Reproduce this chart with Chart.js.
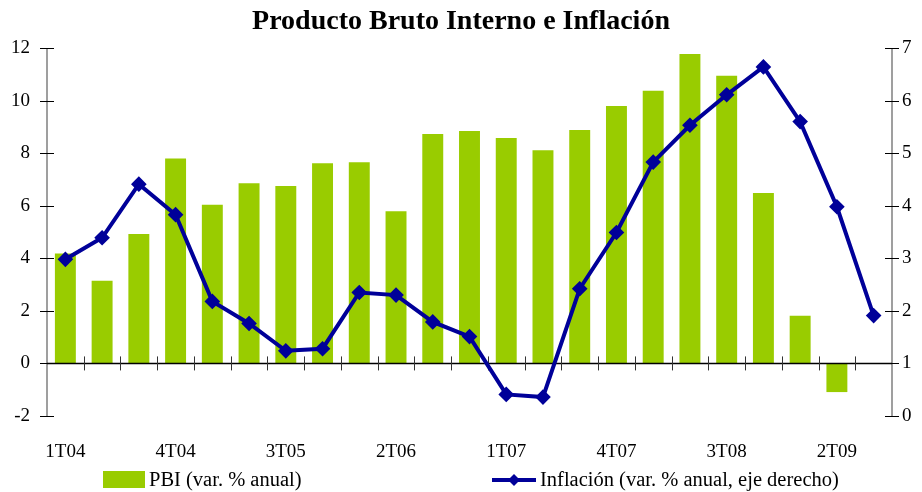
<!DOCTYPE html>
<html>
<head>
<meta charset="utf-8">
<script src="https://cdn.jsdelivr.net/npm/chart.js@4"></script>
<style>
  html, body { margin:0; padding:0; background:#fff; }
  #wrap { position:relative; width:922px; height:492px; font-family:"Liberation Serif","DejaVu Serif",serif; color:#000; }
  #c { position:absolute; left:0; top:0; }
  #title { position:absolute; left:0; width:922px; top:4px; text-align:center; font-weight:bold; font-size:28px; line-height:32px; }
  .lg { position:absolute; top:467px; height:24px; font-size:20.5px; line-height:24px; white-space:nowrap; }
  .box { position:absolute; left:103px; top:471px; width:42px; height:17px; background:#99CC00; }
</style>
</head>
<body>
<div id="wrap">
  <canvas id="c" width="922" height="492"></canvas>
  <div id="title">Producto Bruto Interno e Inflación</div>
  <div class="box"></div>
  <div class="lg" style="left:149px">PBI (var. % anual)</div>
  <svg style="position:absolute;left:490px;top:471px" width="48" height="18">
    <line x1="2" y1="9" x2="46" y2="9" stroke="#000099" stroke-width="4"/>
    <polygon points="24,3 30,9 24,15 18,9" fill="#000099"/>
  </svg>
  <div class="lg" style="left:540px">Inflación (var. % anual, eje derecho)</div>
</div>
<script>
const categories = ['1T04','2T04','3T04','4T04','1T05','2T05','3T05','4T05','1T06','2T06','3T06','4T06',
                    '1T07','2T07','3T07','4T07','1T08','2T08','3T08','4T08','1T09','2T09','3T09'];
const pbi = [4.18,3.15,4.92,7.80,6.04,6.85,6.75,7.62,7.65,5.79,8.73,8.84,
             8.58,8.11,8.88,9.79,10.37,11.77,10.94,6.48,1.81,-1.09,null];
const inflacion = [2.98,3.39,4.41,3.83,2.18,1.76,1.24,1.28,2.35,2.30,1.79,1.51,
                   0.41,0.36,2.42,3.49,4.83,5.53,6.11,6.64,5.60,3.98,1.91];
const leftTicks = [-2,0,2,4,6,8,10,12];
const rightTicks = [0,1,2,3,4,5,6,7];
const labelEvery = 3;

const FONT = '"Liberation Serif","DejaVu Serif",serif';

const axesPlugin = {
  id: 'axesDeco',
  afterDatasetDraw(chart, args) {
    if (args.index !== 0) return;
    const ctx = chart.ctx, a = chart.chartArea;
    const xs = chart.scales.x, y = chart.scales.y, y1 = chart.scales.y1;
    ctx.save();
    ctx.strokeStyle = '#808080'; ctx.lineWidth = 1.5;
    ctx.beginPath();
    ctx.moveTo(a.left, a.top); ctx.lineTo(a.left, a.bottom);
    ctx.moveTo(a.right, a.top); ctx.lineTo(a.right, a.bottom);
    ctx.stroke();
    ctx.strokeStyle = '#000'; ctx.lineWidth = 1;
    ctx.beginPath();
    leftTicks.forEach(v => { const p = Math.round(y.getPixelForValue(v)) + 0.5; ctx.moveTo(a.left - 7, p); ctx.lineTo(a.left + 7, p); });
    rightTicks.forEach(v => { const p = Math.round(y1.getPixelForValue(v)) + 0.5; ctx.moveTo(a.right - 7, p); ctx.lineTo(a.right + 7, p); });
    ctx.stroke();
    const y0 = y.getPixelForValue(0);
    ctx.lineWidth = 1.5; ctx.strokeStyle = '#000';
    ctx.beginPath(); ctx.moveTo(a.left, y0); ctx.lineTo(a.right, y0); ctx.stroke();
    ctx.lineWidth = 1; ctx.strokeStyle = '#333';
    ctx.beginPath();
    const n = categories.length;
    for (let i = 1; i < n; i++) {
      const xb = Math.round((xs.getPixelForValue(i - 1) + xs.getPixelForValue(i)) / 2) + 0.5;
      ctx.moveTo(xb, y0 - 7); ctx.lineTo(xb, y0 + 7);
    }
    ctx.stroke();
    ctx.restore();
  }
};

new Chart(document.getElementById('c'), {
  data: {
    labels: categories,
    datasets: [
      { type: 'bar', label: 'PBI (var. % anual)', data: pbi, backgroundColor: '#99CC00',
        yAxisID: 'y', barPercentage: 0.57, categoryPercentage: 1.0, order: 1 },
      { type: 'line', label: 'Inflación (var. % anual, eje derecho)', data: inflacion, yAxisID: 'y1',
        borderColor: '#000099', backgroundColor: '#000099', borderWidth: 4,
        pointStyle: 'rectRot', pointRadius: 5, pointHoverRadius: 5, tension: 0, order: 0 }
    ]
  },
  options: {
    responsive: false, animation: false,
    layout: { padding: { top: 48, left: 0, right: 0, bottom: 0 } },
    plugins: { legend: { display: false }, title: { display: false }, tooltip: { enabled: false } },
    scales: {
      x: {
        offset: true,
        grid: { display: false, drawTicks: false }, border: { display: false },
        ticks: { autoSkip: false, maxRotation: 0, padding: 25, color: '#000',
                 font: { family: FONT, size: 19 },
                 callback: (v, i) => (i % labelEvery === 0 ? categories[i] : '') },
        afterFit: s => { s.height = 76; }
      },
      y: {
        position: 'left', min: -2, max: 12,
        grid: { display: false, drawTicks: false }, border: { display: false },
        ticks: { stepSize: 2, padding: 17, color: '#000', font: { family: FONT, size: 19 } },
        afterBuildTicks: s => { s.ticks = leftTicks.map(v => ({ value: v })); },
        afterFit: s => { s.width = 47; }
      },
      y1: {
        position: 'right', min: 0, max: 7,
        grid: { display: false, drawTicks: false }, border: { display: false },
        ticks: { stepSize: 1, padding: 10, color: '#000', font: { family: FONT, size: 19 } },
        afterBuildTicks: s => { s.ticks = rightTicks.map(v => ({ value: v })); },
        afterFit: s => { s.width = 30; }
      }
    }
  },
  plugins: [axesPlugin]
});
</script>
</body>
</html>
